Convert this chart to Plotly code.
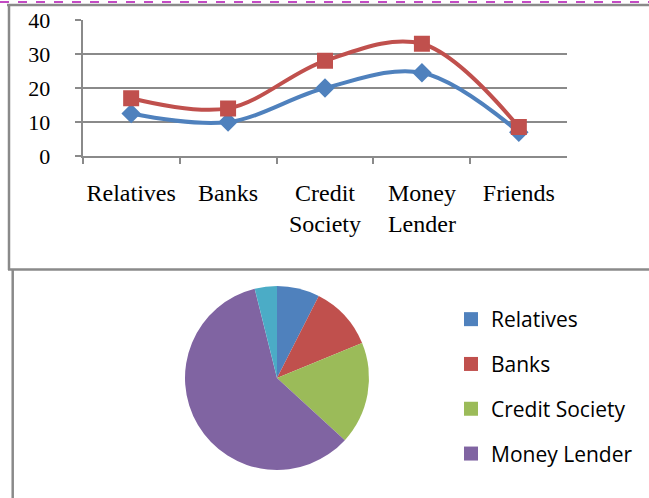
import plotly.graph_objects as go

# line chart data
categorias = ["Relatives", "Banks", "Credit<br>Society", "Money<br>Lender", "Friends"]
serie_azul = [12.5, 10, 20, 24.5, 7]
serie_roja = [17, 14, 28, 33, 8.5]

# pie data (percent share)
pie_labels = ["Relatives", "Banks", "Credit Society", "Money Lender", "Friends"]
pie_values = [7.5, 11.3, 18, 59.3, 3.9]
pie_colors = ["#4F81BD", "#C0504D", "#9BBB59", "#8064A2", "#4BACC6"]
legend_visible = 4  # only the first four entries fit in the frame

W, H = 649, 498
GRIS = "#8a8a8a"


def px_x(v):
    return v / W


def px_y(v):
    return 1 - v / H


fig = go.Figure()

fig.add_trace(go.Scatter(x=categorias, y=serie_azul, mode="lines+markers",
                         line=dict(color="#4F81BD", width=4, shape="spline", smoothing=1),
                         marker=dict(symbol="diamond", size=15, color="#4F81BD"),
                         showlegend=False))
fig.add_trace(go.Scatter(x=categorias, y=serie_roja, mode="lines+markers",
                         line=dict(color="#C0504D", width=4, shape="spline", smoothing=1),
                         marker=dict(symbol="square", size=16, color="#C0504D"),
                         showlegend=False))

fig.add_trace(go.Pie(labels=pie_labels, values=pie_values, sort=False,
                     direction="clockwise", rotation=0, textinfo="none",
                     marker=dict(colors=pie_colors, line=dict(width=0)),
                     domain=dict(x=[px_x(185), px_x(369)], y=[px_y(470), px_y(286)]),
                     showlegend=False, hoverinfo="label+percent"))

# legend entries for the pie (spaced like the original)
for i, (lbl, col) in enumerate(zip(pie_labels, pie_colors)):
    fig.add_trace(go.Scatter(x=[None], y=[None], mode="markers", name=lbl,
                             legendgroup=lbl, showlegend=i < legend_visible,
                             marker=dict(symbol="square", size=14, color=col)))

fig.update_layout(
    width=W, height=H,
    margin=dict(l=0, r=0, t=0, b=0, autoexpand=False),
    paper_bgcolor="white", plot_bgcolor="white",
    xaxis=dict(type="category", domain=[px_x(82.7), px_x(567.3)], range=[-0.5, 4.5],
               showline=True, linecolor=GRIS, linewidth=2, ticks="outside",
               tickson="boundaries", ticklen=6, tickcolor=GRIS, tickwidth=2,
               showgrid=False, ticklabelstandoff=14, tickangle=0,
               tickfont=dict(family="Liberation Serif", size=24, color="black")),
    yaxis=dict(domain=[px_y(156), px_y(20)], range=[0, 40], dtick=10,
               showgrid=True, gridcolor=GRIS, gridwidth=2, zeroline=False,
               showline=True, linecolor=GRIS, linewidth=2, ticks="outside",
               ticklen=6, tickcolor=GRIS, tickwidth=2, ticklabelstandoff=20,
               tickfont=dict(family="Liberation Serif", size=22, color="black")),
    legend=dict(x=px_x(451), y=px_y(299), xanchor="left", yanchor="top",
                tracegroupgap=14.5, bgcolor="rgba(0,0,0,0)",
                font=dict(family="Open Sans", size=21, color="black")),
    shapes=[
        dict(type="line", xref="paper", yref="paper", x0=0, x1=1, y0=px_y(2), y1=px_y(2),
             line=dict(color="#b010b0", width=1.5, dash="dash")),
        dict(type="line", xref="paper", yref="paper", x0=px_x(7), x1=1, y0=px_y(5), y1=px_y(5),
             line=dict(color=GRIS, width=2.5)),
        dict(type="line", xref="paper", yref="paper", x0=px_x(9), x1=px_x(9), y0=px_y(5), y1=px_y(270),
             line=dict(color=GRIS, width=2.5)),
        dict(type="line", xref="paper", yref="paper", x0=px_x(8), x1=1, y0=px_y(269.5), y1=px_y(269.5),
             line=dict(color=GRIS, width=2.5)),
        dict(type="line", xref="paper", yref="paper", x0=px_x(12.7), x1=px_x(12.7), y0=px_y(270), y1=0,
             line=dict(color=GRIS, width=2.5)),
    ],
)

fig.write_html("out.html", config={"displayModeBar": False},
               post_script="document.body.style.margin='0';")
